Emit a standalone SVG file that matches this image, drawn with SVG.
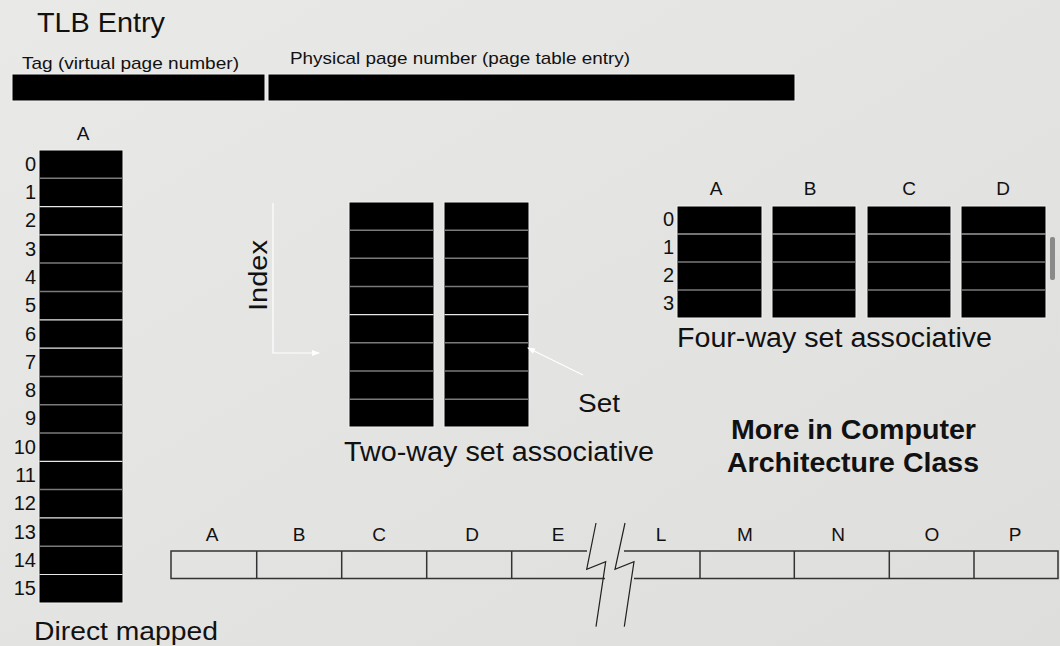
<svg xmlns="http://www.w3.org/2000/svg" width="1060" height="646" viewBox="0 0 1060 646">
<defs>
<linearGradient id="bg" x1="0" y1="0" x2="1" y2="1">
<stop offset="0" stop-color="#e9e9e7"/>
<stop offset="1" stop-color="#dededc"/>
</linearGradient>
<marker id="wa" markerWidth="8" markerHeight="8" refX="7" refY="4" orient="auto" markerUnits="userSpaceOnUse">
<path d="M0,1 L8,4 L0,7 Z" fill="#ffffff"/>
</marker>
<style>
text{font-family:"Liberation Sans",Arial,sans-serif;fill:#111}
.blk{fill:#000;stroke:#f2f2f2;stroke-width:1}
.sg{stroke:#7a7a7a;stroke-width:1.5}
.sw{stroke:#e8e8e8;stroke-width:1.2}
.num{font-size:20px;text-anchor:end}
.lbl{font-size:19px;text-anchor:middle}
.big{font-size:27px}
.strip{fill:none;stroke:#333;stroke-width:1.5}
.brk{fill:none;stroke:#222;stroke-width:1.2}
</style>
</defs>
<rect width="1060" height="646" fill="url(#bg)"/>

<g id="tlb">
<text x="37" y="32" font-size="28" textLength="128" lengthAdjust="spacingAndGlyphs">TLB Entry</text>
<text x="22" y="69" font-size="17" textLength="217" lengthAdjust="spacingAndGlyphs">Tag (virtual page number)</text>
<text x="290" y="64" font-size="17" textLength="340" lengthAdjust="spacingAndGlyphs">Physical page number (page table entry)</text>
<rect class="blk" x="12" y="74" width="253" height="27"/>
<rect class="blk" x="268" y="74" width="527" height="27"/>
</g>

<g id="direct-mapped">
<text class="lbl" x="83" y="140">A</text>
<rect class="blk" x="39" y="150" width="84" height="453"/>
<g class="sg">
<line x1="39.5" y1="178.3" x2="122.5" y2="178.3"/>
<line x1="39.5" y1="263" x2="122.5" y2="263"/>
<line x1="39.5" y1="291.5" x2="122.5" y2="291.5"/>
<line x1="39.5" y1="376.4" x2="122.5" y2="376.4"/>
<line x1="39.5" y1="404.7" x2="122.5" y2="404.7"/>
<line x1="39.5" y1="433" x2="122.5" y2="433"/>
<line x1="39.5" y1="489.6" x2="122.5" y2="489.6"/>
<line x1="39.5" y1="546.2" x2="122.5" y2="546.2"/>
</g>
<g class="sw">
<line x1="39.5" y1="206.6" x2="122.5" y2="206.6"/>
<line x1="39.5" y1="234.9" x2="122.5" y2="234.9"/>
<line x1="39.5" y1="319.8" x2="122.5" y2="319.8"/>
<line x1="39.5" y1="348.1" x2="122.5" y2="348.1"/>
<line x1="39.5" y1="461.3" x2="122.5" y2="461.3"/>
<line x1="39.5" y1="517.9" x2="122.5" y2="517.9"/>
<line x1="39.5" y1="574.5" x2="122.5" y2="574.5"/>
</g>
<text class="num" x="36" y="171">0</text>
<text class="num" x="36" y="199">1</text>
<text class="num" x="36" y="227">2</text>
<text class="num" x="36" y="256">3</text>
<text class="num" x="36" y="284">4</text>
<text class="num" x="36" y="312">5</text>
<text class="num" x="36" y="341">6</text>
<text class="num" x="36" y="369">7</text>
<text class="num" x="36" y="397">8</text>
<text class="num" x="36" y="425">9</text>
<text class="num" x="36" y="454">10</text>
<text class="num" x="36" y="482">11</text>
<text class="num" x="36" y="510">12</text>
<text class="num" x="36" y="539">13</text>
<text class="num" x="36" y="567">14</text>
<text class="num" x="36" y="595">15</text>
<text x="34" y="640" font-size="25" textLength="184" lengthAdjust="spacingAndGlyphs">Direct mapped</text>
</g>

<g id="two-way">
<rect class="blk" x="349" y="202" width="85" height="225"/>
<rect class="blk" x="444" y="202" width="85" height="225"/>
<g class="sg">
<line x1="349.5" y1="230.2" x2="433.5" y2="230.2"/>
<line x1="349.5" y1="258.3" x2="433.5" y2="258.3"/>
<line x1="349.5" y1="286.5" x2="433.5" y2="286.5"/>
<line x1="349.5" y1="342.8" x2="433.5" y2="342.8"/>
<line x1="349.5" y1="371" x2="433.5" y2="371"/>
<line x1="349.5" y1="399.2" x2="433.5" y2="399.2"/>
<line x1="444.5" y1="230.2" x2="528.5" y2="230.2"/>
<line x1="444.5" y1="258.3" x2="528.5" y2="258.3"/>
<line x1="444.5" y1="286.5" x2="528.5" y2="286.5"/>
<line x1="444.5" y1="342.8" x2="528.5" y2="342.8"/>
<line x1="444.5" y1="371" x2="528.5" y2="371"/>
<line x1="444.5" y1="399.2" x2="528.5" y2="399.2"/>
</g>
<g class="sw">
<line x1="349.5" y1="314.6" x2="433.5" y2="314.6"/>
<line x1="444.5" y1="314.6" x2="528.5" y2="314.6"/>
</g>
<text x="344" y="461" class="big" textLength="310" lengthAdjust="spacingAndGlyphs">Two-way set associative</text>
<text x="578" y="412" font-size="25" textLength="42" lengthAdjust="spacingAndGlyphs">Set</text>
<text x="0" y="0" font-size="25" transform="translate(267,311) rotate(-90)" textLength="71" lengthAdjust="spacingAndGlyphs">Index</text>
</g>

<g id="four-way">
<text class="lbl" x="716" y="195">A</text>
<text class="lbl" x="810" y="195">B</text>
<text class="lbl" x="909" y="195">C</text>
<text class="lbl" x="1003" y="195">D</text>
<rect class="blk" x="677" y="206" width="85" height="112"/>
<rect class="blk" x="772" y="206" width="84" height="112"/>
<rect class="blk" x="867" y="206" width="84" height="112"/>
<rect class="blk" x="961" y="206" width="85" height="112"/>
<g class="sw">
<line x1="677.5" y1="234" x2="761.5" y2="234"/>
<line x1="772.5" y1="234" x2="855.5" y2="234"/>
<line x1="867.5" y1="234" x2="950.5" y2="234"/>
<line x1="961.5" y1="234" x2="1045.5" y2="234"/>
</g>
<g class="sg">
<line x1="677.5" y1="262" x2="761.5" y2="262"/>
<line x1="772.5" y1="262" x2="855.5" y2="262"/>
<line x1="867.5" y1="262" x2="950.5" y2="262"/>
<line x1="961.5" y1="262" x2="1045.5" y2="262"/>
<line x1="677.5" y1="290" x2="761.5" y2="290"/>
<line x1="772.5" y1="290" x2="855.5" y2="290"/>
<line x1="867.5" y1="290" x2="950.5" y2="290"/>
<line x1="961.5" y1="290" x2="1045.5" y2="290"/>
</g>
<text class="num" x="674" y="226">0</text>
<text class="num" x="674" y="254">1</text>
<text class="num" x="674" y="282">2</text>
<text class="num" x="674" y="310">3</text>
<text x="677" y="347" class="big" textLength="315" lengthAdjust="spacingAndGlyphs">Four-way set associative</text>
<rect x="1050" y="237" width="5" height="43" rx="2" fill="#8a8a8a"/>
</g>

<g id="note">
<text x="853.5" y="439" font-size="27" font-weight="bold" text-anchor="middle" textLength="245" lengthAdjust="spacingAndGlyphs">More in Computer</text>
<text x="853" y="472" font-size="27" font-weight="bold" text-anchor="middle" textLength="252" lengthAdjust="spacingAndGlyphs">Architecture Class</text>
</g>

<g id="fully-assoc">
<path class="strip" d="M587,551 L171,551 L171,578.5 L605,578.5"/>
<path class="strip" d="M624,551 L1058,551 L1058,578.5 L634,578.5"/>
<g class="strip" stroke-width="1.2">
<line x1="256.7" y1="551" x2="256.7" y2="578.5"/>
<line x1="341.7" y1="551" x2="341.7" y2="578.5"/>
<line x1="426.7" y1="551" x2="426.7" y2="578.5"/>
<line x1="511.7" y1="551" x2="511.7" y2="578.5"/>
<line x1="700" y1="551" x2="700" y2="578.5"/>
<line x1="794.3" y1="551" x2="794.3" y2="578.5"/>
<line x1="889.3" y1="551" x2="889.3" y2="578.5"/>
<line x1="974" y1="551" x2="974" y2="578.5"/>
</g>
<path class="brk" d="M596,523 L586.7,569.3 L605.7,561.7 L596,626.7"/>
<path class="brk" d="M625,523 L615,569.3 L634,561.7 L624.3,626.7"/>
<text class="lbl" x="212" y="541">A</text>
<text class="lbl" x="299" y="541">B</text>
<text class="lbl" x="379" y="541">C</text>
<text class="lbl" x="472" y="541">D</text>
<text class="lbl" x="558" y="541">E</text>
<text class="lbl" x="661" y="541">L</text>
<text class="lbl" x="745" y="541">M</text>
<text class="lbl" x="838" y="541">N</text>
<text class="lbl" x="932" y="541">O</text>
<text class="lbl" x="1015" y="541">P</text>
</g>

<g id="connectors" fill="none" stroke="#ffffff" stroke-width="1.2">
<path d="M273,203 L273,353 L319,353" marker-end="url(#wa)"/>
<line x1="583" y1="375" x2="528" y2="348" marker-end="url(#wa)"/>
</g>
</svg>
